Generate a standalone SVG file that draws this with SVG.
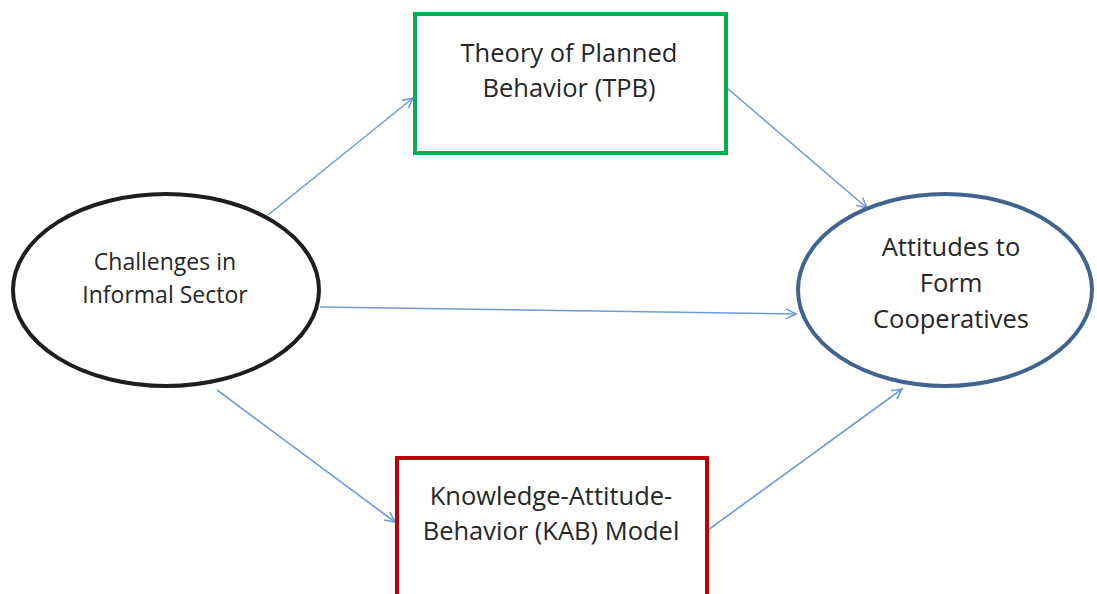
<svg xmlns="http://www.w3.org/2000/svg" width="1097" height="594" viewBox="0 0 1097 594">
<style>
text{font-family:"Open Sans","Noto Sans","Liberation Sans",sans-serif;fill:#262626;text-anchor:middle}
.big{font-size:25.5px}
.med{font-size:23px}
.conn{stroke:#6f9bd4;stroke-width:1.6;fill:none;marker-end:url(#arr)}
</style>
<defs>
<marker id="arr" viewBox="0 0 12 12" refX="11" refY="6" markerWidth="12" markerHeight="12" markerUnits="userSpaceOnUse" orient="auto">
<path d="M1,1 L11,6 L1,11" fill="none" stroke="#6f9bd4" stroke-width="1.6"/>
</marker>
</defs>
<rect width="1097" height="594" fill="#fff"/>
<g id="connectors">
<line class="conn" x1="268" y1="215" x2="413" y2="98"/>
<line class="conn" x1="727" y1="88" x2="867" y2="208"/>
<line class="conn" x1="320" y1="307" x2="796" y2="314"/>
<line class="conn" x1="217" y1="390" x2="395" y2="522"/>
<line class="conn" x1="708" y1="530" x2="902" y2="389"/>
</g>
<g id="tpb">
<rect x="415" y="14" width="311" height="139" fill="#fff" stroke="#00b050" stroke-width="4"/>
<text class="big" x="569" y="62">Theory of Planned</text>
<text class="big" x="569" y="97">Behavior (TPB)</text>
</g>
<g id="kab">
<rect x="397" y="458" width="310" height="150" fill="#fff" stroke="#c00000" stroke-width="4"/>
<text class="big" x="551" y="505">Knowledge-Attitude-</text>
<text class="big" x="551" y="540">Behavior (KAB) Model</text>
</g>
<g id="challenges">
<ellipse cx="166" cy="290" rx="153" ry="96" fill="#fff" stroke="#1e1e1e" stroke-width="4"/>
<text class="med" x="165" y="270">Challenges in</text>
<text class="med" x="165" y="303">Informal Sector</text>
</g>
<g id="attitudes">
<ellipse cx="945" cy="290" rx="147" ry="96" fill="#fff" stroke="#41648f" stroke-width="4"/>
<text class="big" x="951" y="256">Attitudes to</text>
<text class="big" x="951" y="292">Form</text>
<text class="big" x="951" y="328">Cooperatives</text>
</g>
</svg>
